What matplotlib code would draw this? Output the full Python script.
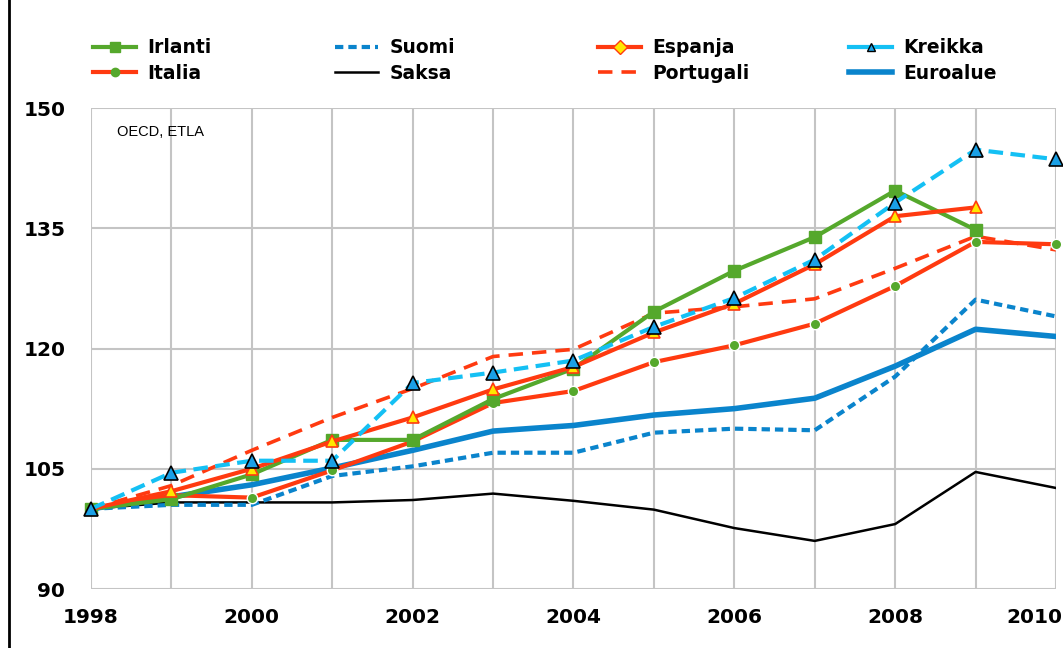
import matplotlib
matplotlib.use("Agg")
import matplotlib.pyplot as plt
from matplotlib.lines import Line2D
import matplotlib.transforms as mtransforms

years = list(range(1998, 2011))

irlanti   = [100.0, 101.2, 104.3, 108.6, 108.6, 113.7, 117.5, 124.6, 129.7, 133.9, 139.7, 134.8, None]
italia    = [100.0, 101.7, 101.4, 104.8, 108.4, 113.2, 114.7, 118.3, 120.4, 123.1, 127.8, 133.3, 133.0]
suomi     = [100.0, 100.5, 100.5, 104.1, 105.3, 107.0, 107.0, 109.5, 110.0, 109.8, 116.5, 126.1, 124.0]
saksa     = [100.0, 100.8, 100.8, 100.8, 101.1, 101.9, 101.0, 99.9, 97.6, 96.0, 98.1, 104.6, 102.6]
espanja   = [100.0, 102.2, 105.0, 108.4, 111.4, 114.9, 117.7, 122.0, 125.6, 130.5, 136.5, 137.6, None]
portugali = [100.0, 102.9, 107.3, 111.4, 115.0, 119.0, 119.9, 124.4, 125.2, 126.2, 130.0, 134.0, 132.3]
kreikka   = [100.0, 104.5, 106.0, 106.0, 115.7, 117.0, 118.5, 122.7, 126.3, 131.1, 138.2, 144.8, 143.6]
euroalue  = [100.0, 101.5, 103.0, 105.1, 107.3, 109.7, 110.4, 111.7, 112.5, 113.8, 117.8, 122.4, 121.5]

y_ticks = [90, 105, 120, 135, 150]
x_labels = ["1998", "", "2000", "", "2002", "", "2004", "", "2006", "", "2008", "", "2010"]
source_note = "OECD, ETLA"

RED = "#ff3a10"
GREEN = "#55a82c"
BLUE = "#0a84cc"
LBLUE = "#14c0f4"
W, H = 1063, 648


def clean(vals):
    return [float("nan") if v is None else v for v in vals]


fig = plt.figure(figsize=(W / 100, H / 100), dpi=100)
ax = fig.add_axes([91 / W, 59 / H, 965 / W, 481 / H])

ax.plot(years, clean(saksa), color="black", lw=1.8, zorder=3)
ax.plot(years, clean(suomi), color=BLUE, lw=3, ls=(0, (2.0, 1.2)), zorder=3)
ax.plot(years, clean(euroalue), color=BLUE, lw=4, zorder=3)
ax.plot(years, clean(portugali), color=RED, lw=2.6, ls=(0, (4, 2.5)), zorder=4)
ax.plot(years, clean(italia), color=RED, lw=3, marker="o", ms=7.5,
        mfc=GREEN, mec="white", mew=1, zorder=4, clip_on=False)
ax.plot(years, clean(irlanti), color=GREEN, lw=3, marker="s", ms=8.5,
        mfc=GREEN, mec=GREEN, zorder=5, clip_on=False)
ax.plot(years, clean(espanja), color=RED, lw=3, marker="^", ms=8,
        mfc="#ffe800", mec=RED, mew=1.2, zorder=6, clip_on=False)
ax.plot(years, clean(kreikka), color=LBLUE, lw=3, ls=(0, (3.5, 1.8)), marker="^", ms=9.5,
        mfc="#1aa0e6", mec="black", mew=1.2, zorder=7, clip_on=False)

ax.set_xlim(1998, 2010)
ax.set_ylim(90, 150)
ax.set_xticks(years)
ax.set_xticklabels(x_labels)
ax.set_yticks(y_ticks)
ax.grid(True, color="#c4c4c4", lw=1.5, zorder=0)
for s in ax.spines.values():
    s.set_visible(False)
ax.tick_params(length=0)
ax.tick_params(axis="y", pad=18.5, labelsize=14.5)
ax.tick_params(axis="x", pad=14, labelsize=14.5)
for lbl in ax.get_xticklabels() + ax.get_yticklabels():
    lbl.set_fontweight("bold")
last = ax.get_xticklabels()[-1]
last.set_horizontalalignment("right")
last.set_transform(last.get_transform() + mtransforms.ScaledTranslation(6 / 100, 0, fig.dpi_scale_trans))

fig.text(117 / W, 1 - 132 / H, source_note, family="Liberation Sans",
         fontsize=10.5, va="center", ha="left")

handles = [
    Line2D([], [], color=GREEN, lw=3, marker="s", ms=7, mfc=GREEN, mec=GREEN),
    Line2D([], [], color=RED, lw=3, marker="o", ms=6, mfc=GREEN, mec=GREEN),
    Line2D([], [], color=BLUE, lw=3, ls=(0, (2.0, 1.2))),
    Line2D([], [], color="black", lw=1.8),
    Line2D([], [], color=RED, lw=3, marker="D", ms=7, mfc="#ffe800", mec=RED),
    Line2D([], [], color=RED, lw=2.6, ls=(0, (4, 2.5))),
    Line2D([], [], color=LBLUE, lw=3, marker="^", ms=6, mfc="#1aa0e6", mec="black"),
    Line2D([], [], color=BLUE, lw=4),
]
labels = ["Irlanti", "Italia", "Suomi", "Saksa", "Espanja", "Portugali", "Kreikka", "Euroalue"]
col_x = [93, 335, 598, 849]
for i, x0 in enumerate(col_x):
    fig.legend(handles[2 * i:2 * i + 2], labels[2 * i:2 * i + 2], loc="center left",
               bbox_to_anchor=(x0 / W, 1 - 60.5 / H), frameon=False,
               prop={"weight": "bold", "size": 13.5}, handlelength=2.3,
               handletextpad=0.6, labelspacing=0.36, borderpad=0, borderaxespad=0)

fig.add_artist(Line2D([8.5 / W, 8.5 / W], [0, 1], transform=fig.transFigure,
                      color="black", lw=2))

fig.savefig("out.png", dpi=100)
